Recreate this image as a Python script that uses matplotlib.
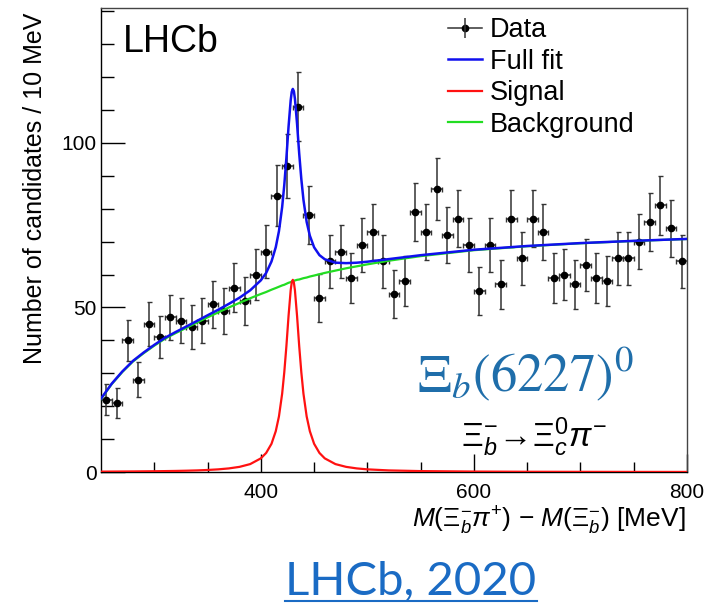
import numpy as np
import matplotlib
matplotlib.use("Agg")
import matplotlib.pyplot as plt
from matplotlib.lines import Line2D

plt.rcParams['font.family'] = ['Liberation Sans', 'DejaVu Sans']
plt.rcParams['mathtext.fontset'] = 'custom'
plt.rcParams['mathtext.rm'] = 'Liberation Sans'
plt.rcParams['mathtext.it'] = 'Liberation Sans:italic'
plt.rcParams['mathtext.bf'] = 'Liberation Sans:bold'

# data: M(Xi_b pi) - M(Xi_b), 10 MeV bins
bin_centres = np.arange(255, 800, 10)
counts = [22, 21, 40, 28, 45, 41, 47, 46, 44, 46,
          51, 49, 56, 52, 60, 67, 84, 93, 111, 78,
          53, 64, 67, 59, 69, 73, 64, 54, 58, 79,
          73, 86, 72, 77, 69, 55, 69, 57, 77, 65,
          77, 73, 59, 60, 57, 63, 59, 58, 65, 65,
          70, 76, 81, 74, 64]

# fit curves
curve_x = [250, 260, 270, 280, 290, 300, 310, 320, 330, 340,
           350, 360, 370, 380, 390, 400, 405, 410, 414, 417,
           420, 422, 424, 426, 428, 429, 430, 431, 432, 434,
           436, 438, 440, 443, 446, 450, 455, 460, 470, 480,
           490, 500, 520, 550, 600, 650, 700, 750, 800]
background = [22.2, 26.7, 30.4, 33.6, 36.1, 38.4, 40.5, 42.2, 43.8, 45.4,
              47.0, 48.5, 50.0, 51.4, 52.8, 54.1, 54.7, 55.4, 55.9, 56.3,
              56.7, 56.9, 57.2, 57.5, 57.7, 57.9, 58.0, 58.1, 58.2, 58.4,
              58.5, 58.7, 58.9, 59.1, 59.4, 59.7, 60.1, 60.5, 61.2, 61.9,
              62.5, 63.1, 64.2, 65.6, 67.4, 68.6, 69.5, 70.2, 70.8]
signal = [0.12, 0.14, 0.16, 0.18, 0.21, 0.24, 0.28, 0.33, 0.40, 0.49,
          0.62, 0.81, 1.10, 1.57, 2.41, 4.15, 5.80, 8.58, 12.4, 16.9,
          23.8, 30.3, 38.3, 47.4, 55.2, 57.6, 58.4, 57.6, 55.2, 47.4,
          38.3, 30.3, 23.8, 16.9, 12.4, 8.58, 5.80, 4.15, 2.41, 1.57,
          1.10, 0.81, 0.49, 0.28, 0.14, 0.08, 0.06, 0.04, 0.03]
full_fit = np.array(signal) + np.array(background)

W, H = 710, 604
fig = plt.figure(figsize=(W / 100, H / 100), dpi=100)
ax = fig.add_axes([0.1423, 0.2185, 0.8253, 0.7683])

ax.errorbar(bin_centres, counts, yerr=np.sqrt(counts), xerr=5,
            fmt='o', color='black', ecolor='#333333', markersize=4.5,
            elinewidth=1.1, capsize=1.8, capthick=1.0, zorder=2)
ax.plot(curve_x, background, color='#22dd22', lw=1.6, zorder=3)
ax.plot(curve_x, signal, color='#ff1111', lw=1.6, zorder=3)
ax.plot(curve_x, full_fit, color='#1010ee', lw=1.8, zorder=4)

ax.set_xlim(250, 800)
ax.set_ylim(0, 141)
ax.set_xticks([400, 600, 800])
ax.set_xticks(np.arange(300, 800, 50), minor=True)
ax.set_yticks([0, 50, 100])
ax.set_yticks(np.arange(10, 141, 10), minor=True)
ax.tick_params(which='both', direction='in', top=False, right=False,
               labelsize=15, pad=8)
ax.tick_params(which='major', length=13, width=1)
ax.tick_params(which='minor', length=7, width=1)
ax.tick_params(axis='y', which='major', length=17, pad=3)
ax.tick_params(axis='y', which='minor', length=9)
for s in ax.spines.values():
    s.set_linewidth(1.0)
ax.spines['top'].set_color('#444444')
ax.spines['right'].set_color('#444444')

# legend
data_h = (Line2D([], [], color='#333333', lw=1.1, marker='o', ms=4.5,
                 mfc='black', mec='black'),
          Line2D([], [], ls='none', marker='|', ms=14, mew=1.1, color='#333333'))
full_h = Line2D([], [], color='#1010ee', lw=1.8)
sig_h = Line2D([], [], color='#ff1111', lw=1.6)
bkg_h = Line2D([], [], color='#22dd22', lw=1.6)
ax.legend([data_h, full_h, sig_h, bkg_h],
          ['Data', 'Full fit', 'Signal', 'Background'],
          loc='upper left', bbox_to_anchor=(0.592, 0.98), frameon=False,
          fontsize=19.5, handlelength=1.26, handletextpad=0.3,
          labelspacing=0.2, borderpad=0, borderaxespad=0)

ax.text(0.037, 0.965, 'LHCb', transform=ax.transAxes, fontsize=27,
        ha='left', va='top')
fig.text(417 / W, 1 - 391 / H, r'$\Xi_b(6227)^0$', fontsize=38,
         color='#1f6eaa', math_fontfamily='stix', ha='left', va='baseline')
fig.text(461 / W, 1 - 447 / H,
         r'$\Xi_b^{-}\!\rightarrow\!\Xi_c^{0}\pi^{-}$',
         fontsize=24, ha='left', va='baseline')

fig.text(35 / W, 1 - 13 / H, 'Number of candidates / 10 MeV',
         rotation=90, fontsize=18, ha='center', va='top')
fig.text(686 / W, 1 - 521 / H,
         r'$M(\Xi_b^{-}\pi^{+})$ $-$ $M(\Xi_b^{-})$ [MeV]',
         fontsize=19, ha='right', va='center')

link = fig.text(411 / W, 1 - 595 / H, 'LHCb, 2020', fontsize=34,
                color='#1a6bc4', family=['Lato', 'DejaVu Sans'],
                ha='center', va='baseline')
fig.canvas.draw()
bb = link.get_window_extent().transformed(fig.transFigure.inverted())
uy = 1 - 601 / H
fig.add_artist(Line2D([bb.x0, bb.x1], [uy, uy], transform=fig.transFigure,
                      color='#1a6bc4', lw=1.5))

fig.savefig('out.png', dpi=100)
